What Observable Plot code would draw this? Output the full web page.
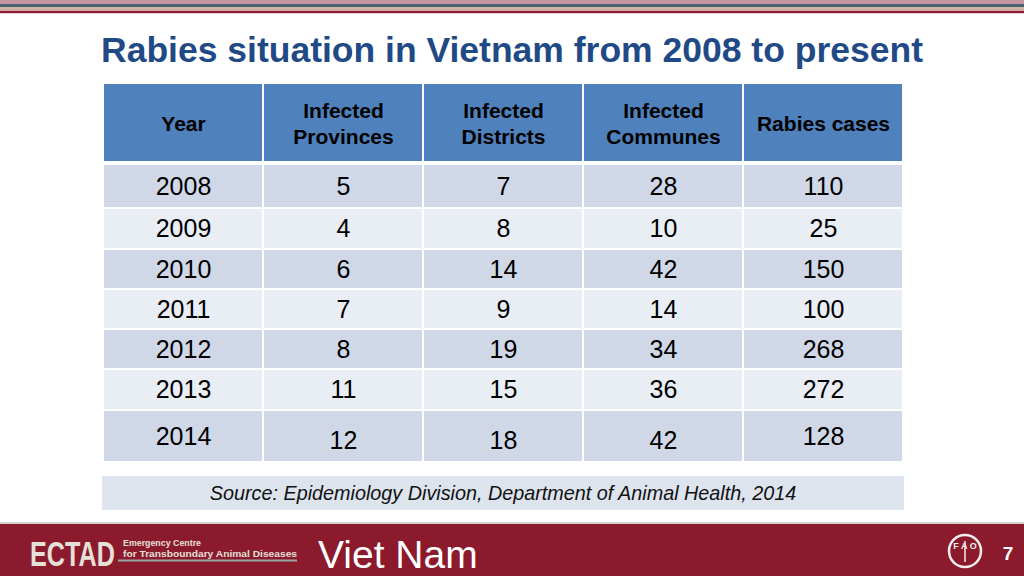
<!DOCTYPE html>
<html>
<head>
<meta charset="utf-8">
<script src="https://cdn.jsdelivr.net/npm/d3@7"></script>
<script src="https://cdn.jsdelivr.net/npm/@observablehq/plot@0.6"></script>
<style>
  html, body { margin: 0; padding: 0; background: #fff; }
  body { width: 1024px; height: 576px; position: relative; overflow: hidden; font-family: "Liberation Sans", Arial, sans-serif; }
  .stripe { position: absolute; left: 0; width: 1024px; }
  #title { position: absolute; left: 101px; top: 33px; line-height: 35px; font-size: 35.5px; font-weight: bold; color: #1f4a86; white-space: nowrap; }
  #chart { position: absolute; left: 0; top: 84px; }
  #source { position: absolute; left: 102px; top: 476px; width: 802px; height: 34px; background: #dde4ee; display: flex; align-items: center; justify-content: center; font-style: italic; font-size: 19.8px; color: #111; }
  #footerline { position: absolute; left: 0; top: 522px; width: 1024px; height: 2px; background: #d6cfcf; }
  #footer { position: absolute; left: 0; top: 524px; width: 1024px; height: 52px; background: #8b1a2d; }
</style>
</head>
<body>
<div class="stripe" style="top:0;height:4px;background:#c496a0"></div>
<div class="stripe" style="top:4px;height:3px;background:#4a5e75"></div>
<div class="stripe" style="top:7px;height:2px;background:#c8b9a0"></div>
<div class="stripe" style="top:9px;height:2px;background:#d4a2ab"></div>
<div class="stripe" style="top:11px;height:2px;background:#8c1e32"></div>
<div class="stripe" style="top:13px;height:1px;background:#e8cdd2"></div>

<div id="title">Rabies situation in Vietnam from 2008 to present</div>
<div id="chart"></div>
<div id="source">Source: Epidemiology Division, Department of Animal Health, 2014</div>
<div id="footerline"></div>
<div id="footer">
  <svg width="1024" height="52" style="display:block">
    <text transform="translate(30,42) scale(0.7,1)" font-family="Liberation Sans, sans-serif" font-weight="bold" font-size="36" fill="#e6e1d8">ECTAD</text>
    <text x="123" y="21.5" font-family="Liberation Sans, sans-serif" font-weight="bold" font-size="9" fill="#e6e1d8" textLength="78" lengthAdjust="spacingAndGlyphs">Emergency Centre</text>
    <text x="123" y="33" font-family="Liberation Sans, sans-serif" font-weight="bold" font-size="9" fill="#e6e1d8" textLength="174" lengthAdjust="spacingAndGlyphs">for Transboundary Animal Diseases</text>
    <line x1="118" x2="297" y1="36.5" y2="36.5" stroke="#9aa6a6" stroke-width="2"/>
    <text x="318" y="43.5" font-family="Liberation Sans, sans-serif" font-size="39" fill="#ffffff">Viet Nam</text>
    <circle cx="965" cy="27" r="16" fill="none" stroke="#f2eeee" stroke-width="2.5"/>
    <text x="965" y="25" text-anchor="middle" font-family="Liberation Sans, sans-serif" font-weight="bold" font-size="9" fill="#f2eeee">F  A  O</text>
    <line x1="965" x2="965" y1="17" y2="38" stroke="#f2eeee" stroke-width="1.5"/>
    <text x="1008" y="36" text-anchor="middle" font-family="Liberation Sans, sans-serif" font-weight="bold" font-size="19" fill="#ffffff">7</text>
  </svg>
</div>

<script>
// ---- Data ----
const columns = ["Year", "Infected\nProvinces", "Infected\nDistricts", "Infected\nCommunes", "Rabies cases"];
const years = [2008, 2009, 2010, 2011, 2012, 2013, 2014];
const provinces = [5, 4, 6, 7, 8, 11, 12];
const districts = [7, 8, 14, 9, 19, 15, 18];
const communes = [28, 10, 42, 14, 34, 36, 42];
const cases = [110, 25, 150, 100, 268, 272, 128];

// ---- Layout (row heights & gaps, in table units) ----
const rowHeights = [77, 42, 39, 38, 38, 38, 39, 50];
const rowGaps = [0, 4, 2, 2, 2, 2, 2, 2];
const tops = [];
let acc = 0;
rowHeights.forEach((h, i) => { acc += rowGaps[i]; tops.push(acc); acc += h; });
const total = acc;

const headerFill = "#4f81bd";
const darkFill = "#d0d8e8";
const lightFill = "#e9edf4";

const cells = [];
columns.forEach((c) => {
  cells.push({col: c, y1: tops[0], y2: tops[0] + rowHeights[0], fill: headerFill, label: c, header: true, shift: 0});
});
years.forEach((yr, i) => {
  const r = i + 1;
  const vals = [yr, provinces[i], districts[i], communes[i], cases[i]];
  columns.forEach((c, j) => {
    // in the last row the middle cells sit slightly lower (as in the original slide)
    const shift = (r === rowHeights.length - 1 && j > 0 && j < columns.length - 1) ? 4 : 0;
    cells.push({col: c, y1: tops[r], y2: tops[r] + rowHeights[r], fill: i % 2 === 0 ? darkFill : lightFill, label: String(vals[j]), header: false, shift});
  });
});
cells.forEach(d => d.ym = (d.y1 + d.y2) / 2 + d.shift);

const chart = Plot.plot({
  width: 1024,
  height: total,
  marginLeft: 102,
  marginRight: 120,
  marginTop: 0,
  marginBottom: 0,
  style: {fontFamily: "Liberation Sans, Arial, sans-serif", color: "#000", background: "transparent"},
  x: {domain: columns, paddingInner: 0.0124, paddingOuter: 0, axis: null},
  y: {domain: [0, total], range: [0, total], axis: null},
  color: {type: "identity"},
  marks: [
    Plot.barY(cells, {x: "col", y1: "y1", y2: "y2", fill: "fill"}),
    Plot.text(cells.filter(d => d.header), {x: "col", y: "ym", text: "label", fontSize: 21, fontWeight: "bold", lineHeight: 1.24, fill: "#000"}),
    Plot.text(cells.filter(d => !d.header), {x: "col", y: "ym", text: "label", fontSize: 25, fill: "#000"})
  ]
});
document.getElementById("chart").appendChild(chart);
</script>
</body>
</html>
